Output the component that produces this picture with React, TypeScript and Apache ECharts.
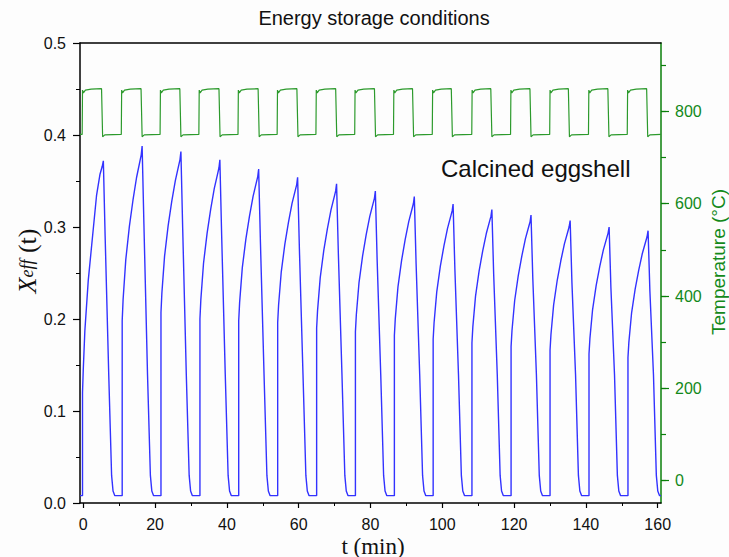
import React, { useEffect, useRef } from "react";
import * as echarts from "echarts";

// ---------- data ----------
const titleText = "Energy storage conditions";
const sampleLabel = "Calcined eggshell";
const xTickValues = [0, 20, 40, 60, 80, 100, 120, 140, 160];
const leftTickValues = [0, 0.1, 0.2, 0.3, 0.4, 0.5];
const rightTickValues = [0, 200, 400, 600, 800];

// Xeff(t) – blue curve, [t (min), Xeff]
const xeffData: [number, number][] = [
  [-0.9, 0.008], [-0.2, 0.008], [-0.2, 0.12], [0.0, 0.144], [0.45, 0.187], [1.4, 0.242], [2.7, 0.294], [3.7, 0.334], [4.65, 0.357], [5.3, 0.366], [5.6, 0.372],
  [6.1, 0.29], [7.1, 0.14], [7.9, 0.03], [8.3, 0.013], [8.8, 0.008], [10.85, 0.008],
  [10.85, 0.198], [11.1, 0.221], [11.85, 0.2645], [12.85, 0.3006], [13.85, 0.3291], [14.85, 0.3538], [15.85, 0.3728], [16.15, 0.3785], [16.4, 0.388],
  [16.9, 0.303], [17.9, 0.14], [18.7, 0.03], [19.1, 0.013], [19.6, 0.008], [21.65, 0.008],
  [21.65, 0.207], [21.9, 0.228], [22.65, 0.2683], [23.65, 0.3015], [24.65, 0.3278], [25.65, 0.3505], [26.65, 0.368], [26.95, 0.3733], [27.2, 0.382],
  [27.7, 0.298], [28.7, 0.14], [29.5, 0.03], [29.9, 0.013], [30.4, 0.008], [32.5, 0.008],
  [32.5, 0.2], [32.75, 0.2208], [33.5, 0.2606], [34.5, 0.2934], [35.5, 0.3194], [36.5, 0.3419], [37.5, 0.3592], [37.8, 0.3644], [38.05, 0.373],
  [38.55, 0.291], [39.55, 0.14], [40.35, 0.03], [40.75, 0.013], [41.25, 0.008], [43.3, 0.008],
  [43.3, 0.198], [43.55, 0.2178], [44.3, 0.2558], [45.3, 0.2871], [46.3, 0.3119], [47.3, 0.3333], [48.3, 0.3498], [48.6, 0.3548], [48.85, 0.363],
  [49.35, 0.283], [50.35, 0.14], [51.15, 0.03], [51.55, 0.013], [52.05, 0.008], [54.15, 0.008],
  [54.15, 0.196], [54.4, 0.215], [55.15, 0.2513], [56.15, 0.2813], [57.15, 0.305], [58.15, 0.3256], [59.15, 0.3414], [59.45, 0.3461], [59.7, 0.354],
  [60.2, 0.276], [61.2, 0.14], [62.0, 0.03], [62.4, 0.013], [62.9, 0.008], [65.0, 0.008],
  [65.0, 0.19], [65.25, 0.2088], [66.0, 0.245], [67.0, 0.2748], [68.0, 0.2983], [69.0, 0.3187], [70.0, 0.3344], [70.3, 0.3392], [70.55, 0.347],
  [71.05, 0.271], [72.05, 0.14], [72.85, 0.03], [73.25, 0.013], [73.75, 0.008], [75.8, 0.008],
  [75.8, 0.186], [76.05, 0.2044], [76.8, 0.2396], [77.8, 0.2686], [78.8, 0.2916], [79.8, 0.3115], [80.8, 0.3268], [81.1, 0.3314], [81.35, 0.339],
  [81.85, 0.264], [82.85, 0.14], [83.65, 0.03], [84.05, 0.013], [84.55, 0.008], [86.65, 0.008],
  [86.65, 0.182], [86.9, 0.2001], [87.65, 0.2349], [88.65, 0.2635], [89.65, 0.2862], [90.65, 0.3058], [91.65, 0.3209], [91.95, 0.3255], [92.2, 0.333],
  [92.7, 0.26], [93.7, 0.14], [94.5, 0.03], [94.9, 0.013], [95.4, 0.008], [97.45, 0.008],
  [97.45, 0.178], [97.7, 0.1956], [98.45, 0.2295], [99.45, 0.2574], [100.45, 0.2794], [101.45, 0.2985], [102.45, 0.3132], [102.75, 0.3177], [103.0, 0.325],
  [103.5, 0.254], [104.5, 0.14], [105.3, 0.03], [105.7, 0.013], [106.2, 0.008], [108.25, 0.008],
  [108.25, 0.174], [108.5, 0.1914], [109.25, 0.2248], [110.25, 0.2523], [111.25, 0.2741], [112.25, 0.2929], [113.25, 0.3074], [113.55, 0.3118], [113.8, 0.319],
  [114.3, 0.249], [115.3, 0.14], [116.1, 0.03], [116.5, 0.013], [117.0, 0.008], [119.15, 0.008],
  [119.15, 0.17], [119.4, 0.1872], [120.15, 0.2201], [121.15, 0.2472], [122.15, 0.2687], [123.15, 0.2873], [124.15, 0.3016], [124.45, 0.3059], [124.7, 0.313],
  [125.2, 0.244], [126.2, 0.14], [127.0, 0.03], [127.4, 0.013], [127.9, 0.008], [130.0, 0.008],
  [130.0, 0.166], [130.25, 0.1829], [131.0, 0.2154], [132.0, 0.2421], [133.0, 0.2633], [134.0, 0.2816], [135.0, 0.2957], [135.3, 0.3], [135.6, 0.307],
  [136.1, 0.239], [137.1, 0.14], [137.9, 0.03], [138.3, 0.013], [138.8, 0.008], [140.85, 0.008],
  [140.85, 0.162], [141.1, 0.1786], [141.85, 0.2103], [142.85, 0.2365], [143.85, 0.2572], [144.85, 0.2752], [145.85, 0.289], [146.15, 0.2931], [146.45, 0.3],
  [146.95, 0.234], [147.95, 0.14], [148.75, 0.03], [149.15, 0.013], [149.65, 0.008], [151.7, 0.008],
  [151.7, 0.158], [151.95, 0.1746], [152.7, 0.2063], [153.7, 0.2325], [154.7, 0.2532], [155.7, 0.2712], [156.7, 0.285], [157.0, 0.2891], [157.3, 0.296],
  [157.8, 0.231], [158.8, 0.14], [159.6, 0.03], [160.0, 0.013], [160.5, 0.008], [160.9, 0.008],
];

// Temperature (°C) – green curve, [t (min), T]
const tempData: [number, number][] = [
  [-0.9, 750], [-0.3, 750], [-0.2, 846], [0.05, 840], [0.6, 846], [2.2, 848], [5.1, 849], [5.4, 745], [6.0, 749],
  [10.6, 750], [10.7, 846], [10.95, 840], [11.5, 846], [13.1, 848], [16.1, 849], [16.4, 745], [17.0, 749],
  [21.4, 750], [21.5, 846], [21.75, 840], [22.3, 846], [23.9, 848], [26.9, 849], [27.2, 745], [27.8, 749],
  [32.2, 750], [32.3, 846], [32.55, 840], [33.1, 846], [34.7, 848], [37.8, 849], [38.1, 745], [38.7, 749],
  [43.1, 750], [43.2, 846], [43.45, 840], [44.0, 846], [45.6, 848], [48.7, 849], [49.0, 745], [49.6, 749],
  [54.0, 750], [54.1, 846], [54.35, 840], [54.9, 846], [56.5, 848], [59.5, 849], [59.8, 745], [60.4, 749],
  [64.8, 750], [64.9, 846], [65.15, 840], [65.7, 846], [67.3, 848], [70.3, 849], [70.6, 745], [71.2, 749],
  [75.6, 750], [75.7, 846], [75.95, 840], [76.5, 846], [78.1, 848], [81.1, 849], [81.4, 745], [82.0, 749],
  [86.4, 750], [86.5, 846], [86.75, 840], [87.3, 846], [88.9, 848], [91.7, 849], [92.0, 745], [92.6, 749],
  [97.2, 750], [97.3, 846], [97.55, 840], [98.1, 846], [99.7, 848], [102.5, 849], [102.8, 745], [103.4, 749],
  [108.2, 750], [108.3, 846], [108.55, 840], [109.1, 846], [110.7, 848], [113.5, 849], [113.8, 745], [114.4, 749],
  [119.0, 750], [119.1, 846], [119.35, 840], [119.9, 846], [121.5, 848], [124.4, 849], [124.7, 745], [125.3, 749],
  [129.9, 750], [130.0, 846], [130.25, 840], [130.8, 846], [132.4, 848], [135.1, 849], [135.4, 745], [136.0, 749],
  [140.7, 750], [140.8, 846], [141.05, 840], [141.6, 846], [143.2, 848], [146.1, 849], [146.4, 745], [147.0, 749],
  [151.5, 750], [151.6, 846], [151.85, 840], [152.4, 846], [154.0, 848], [156.9, 849], [157.2, 745], [157.8, 749], [160.9, 750],
];

// ---------- styling ----------
const SANS = "'Liberation Sans', Arial, sans-serif";
const SERIF = "'Liberation Serif', 'Times New Roman', serif";
const BLACK = "#111111";
const GREEN_AXIS = "#0a7f0a";
const GREEN_TEXT = "#13891a";
const GREEN_LINE = "#2c9a2c";
const BLUE_LINE = "#3232ff";

const hiddenAxis = (gridIndex: number) => ({
  gridIndex,
  type: "value",
  show: false,
  min: 0,
  max: 1,
  axisLine: { show: false, onZero: false },
  axisTick: { show: false },
  axisLabel: { show: false },
  splitLine: { show: false },
});

function buildOption() {
  return {
    animation: false,
    backgroundColor: "#fdfdfd",
    textStyle: { fontFamily: SANS },
    grid: [
      { left: 80, right: 68, top: 43, bottom: 54 },
      { left: 83.3, right: 71.3, top: 43, bottom: 54 },
      { left: 80, right: 68, top: 65.2, bottom: 76.3 },
      { left: 80, right: 68, top: 111.3, bottom: 76.3 },
    ],
    xAxis: [
      {
        gridIndex: 0,
        type: "value",
        position: "bottom",
        min: -0.9,
        max: 160.9,
        axisLine: { show: true, onZero: false, lineStyle: { color: "#000", width: 1.5 } },
        axisTick: { show: false },
        axisLabel: { show: false },
        splitLine: { show: false },
      },
      {
        gridIndex: 0,
        type: "value",
        position: "top",
        min: -0.9,
        max: 160.9,
        axisLine: { show: true, onZero: false, lineStyle: { color: "#000", width: 1.5 } },
        axisTick: { show: false },
        axisLabel: { show: false },
        splitLine: { show: false },
      },
      {
        gridIndex: 1,
        type: "value",
        position: "bottom",
        min: xTickValues[0],
        max: xTickValues[xTickValues.length - 1],
        interval: 20,
        axisLine: { show: false, onZero: false },
        axisTick: { show: true, length: 5, lineStyle: { color: "#000", width: 1.2 } },
        minorTick: { show: true, splitNumber: 2, length: 3, lineStyle: { color: "#000", width: 1 } },
        axisLabel: { show: true, margin: 13, fontSize: 16, color: BLACK, fontFamily: SANS },
        splitLine: { show: false },
      },
      hiddenAxis(2),
      hiddenAxis(3),
    ],
    yAxis: [
      {
        gridIndex: 0,
        type: "value",
        position: "left",
        min: leftTickValues[0],
        max: leftTickValues[leftTickValues.length - 1],
        interval: 0.1,
        axisLine: { show: true, onZero: false, lineStyle: { color: "#000", width: 1.5 } },
        axisTick: { show: true, length: 7, lineStyle: { color: "#000", width: 1.2 } },
        minorTick: { show: true, splitNumber: 2, length: 4, lineStyle: { color: "#000", width: 1 } },
        axisLabel: {
          show: true,
          margin: 14,
          fontSize: 16,
          color: BLACK,
          fontFamily: SANS,
          formatter: (v: number) => v.toFixed(1),
        },
        splitLine: { show: false },
      },
      {
        gridIndex: 0,
        type: "value",
        position: "right",
        min: -48,
        max: 948,
        axisLine: { show: true, onZero: false, lineStyle: { color: GREEN_AXIS, width: 1.5 } },
        axisTick: { show: false },
        axisLabel: { show: false },
        splitLine: { show: false },
      },
      hiddenAxis(1),
      {
        gridIndex: 2,
        type: "value",
        position: "right",
        min: 0,
        max: 900,
        interval: 100,
        axisLine: { show: false, onZero: false },
        axisTick: { show: true, length: 5, lineStyle: { color: GREEN_AXIS, width: 1.2 } },
        axisLabel: { show: false },
        splitLine: { show: false },
      },
      {
        gridIndex: 3,
        type: "value",
        position: "right",
        min: rightTickValues[0],
        max: rightTickValues[rightTickValues.length - 1],
        interval: 200,
        axisLine: { show: false, onZero: false },
        axisTick: { show: true, length: 8, lineStyle: { color: GREEN_AXIS, width: 1.2 } },
        axisLabel: { show: true, margin: 14, fontSize: 16, color: GREEN_TEXT, fontFamily: SANS },
        splitLine: { show: false },
      },
    ],
    series: [
      {
        name: "Temperature",
        type: "line",
        xAxisIndex: 0,
        yAxisIndex: 1,
        data: tempData,
        showSymbol: false,
        symbol: "none",
        lineStyle: { color: GREEN_LINE, width: 1.2 },
        z: 3,
      },
      {
        name: "Xeff",
        type: "line",
        xAxisIndex: 0,
        yAxisIndex: 0,
        data: xeffData,
        showSymbol: false,
        symbol: "none",
        lineStyle: { color: BLUE_LINE, width: 1.4 },
        z: 4,
      },
    ],
    graphic: [
      {
        type: "text",
        x: 374,
        y: 18,
        style: {
          text: titleText,
          fontSize: 20,
          fontFamily: SANS,
          fill: BLACK,
          align: "center",
          verticalAlign: "middle",
        },
      },
      {
        type: "text",
        x: 441,
        y: 168,
        style: {
          text: sampleLabel,
          fontSize: 24,
          fontFamily: SANS,
          fill: BLACK,
          align: "left",
          verticalAlign: "middle",
        },
      },
      {
        type: "text",
        x: 373,
        y: 546,
        style: {
          text: "t (min)",
          fontSize: 23,
          fontFamily: SERIF,
          fill: BLACK,
          align: "center",
          verticalAlign: "middle",
        },
      },
      {
        type: "text",
        x: 27,
        y: 261,
        rotation: Math.PI / 2,
        style: {
          text: "{x|X}{s|eff}{n| (t)}",
          fill: BLACK,
          align: "center",
          verticalAlign: "middle",
          rich: {
            x: { fontFamily: SERIF, fontStyle: "italic", fontSize: 26, lineHeight: 26, fill: BLACK },
            s: { fontFamily: SERIF, fontStyle: "italic", fontSize: 18, lineHeight: 14, fill: BLACK },
            n: { fontFamily: SERIF, fontSize: 26, lineHeight: 26, fill: BLACK },
          },
        },
      },
      {
        type: "text",
        x: 718,
        y: 262,
        rotation: Math.PI / 2,
        style: {
          text: "Temperature (°C)",
          fontSize: 19,
          fontFamily: SANS,
          fill: GREEN_TEXT,
          align: "center",
          verticalAlign: "middle",
        },
      },
    ],
  };
}

export default function App() {
  const ref = useRef<HTMLDivElement>(null);
  useEffect(() => {
    if (!ref.current) return;
    const chart = echarts.init(ref.current, null, { renderer: "svg" });
    chart.setOption(buildOption() as any);
    return () => {
      chart.dispose();
    };
  }, []);
  return (
    <div
      ref={ref}
      style={{ position: "fixed", left: 0, top: 0, width: 729, height: 557, background: "#fdfdfd" }}
    />
  );
}
